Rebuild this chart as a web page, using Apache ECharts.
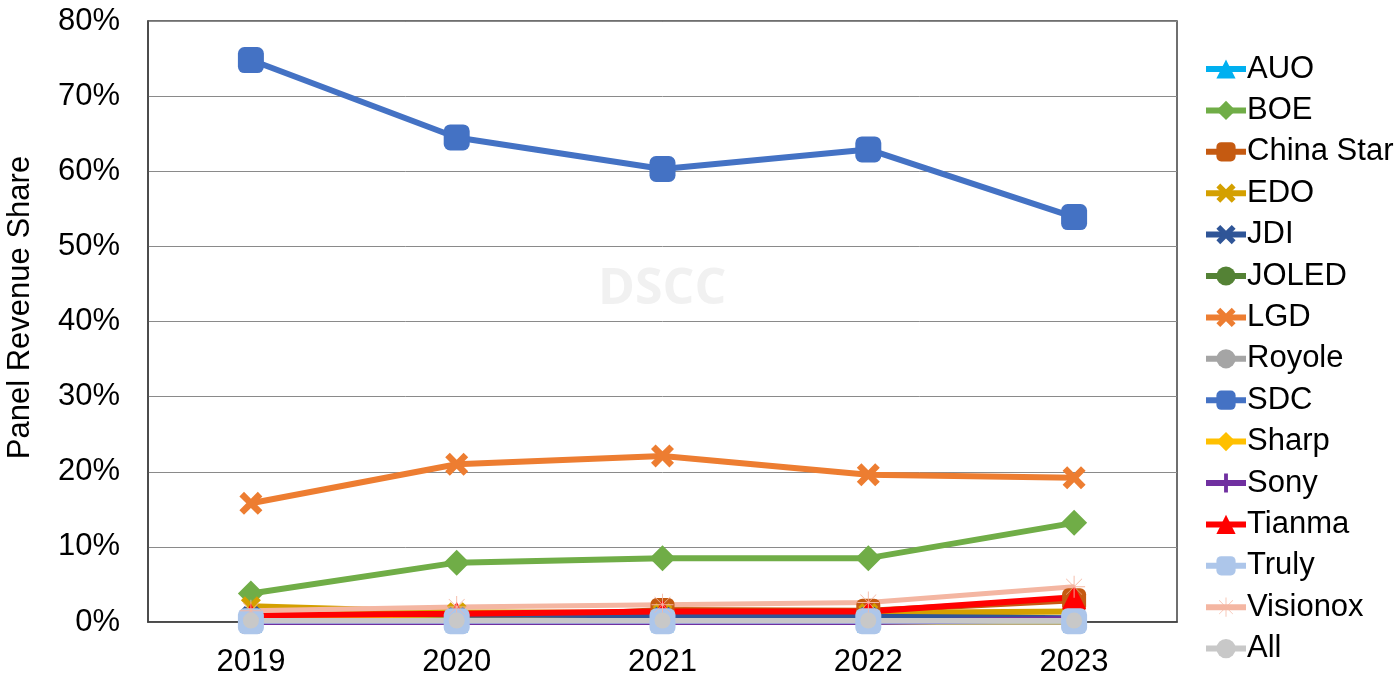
<!DOCTYPE html>
<html><head><meta charset="utf-8">
<script src="https://cdn.jsdelivr.net/npm/echarts@6/dist/echarts.min.js"></script>
<style>html,body{margin:0;padding:0;background:#fff}#c{width:1400px;height:683px}</style>
</head><body><div id="c"></div>
<script>
const years = ['2019','2020','2021','2022','2023'];
const AUO = [0, 0, 0, 0, 0];
const BOE = [3.8, 7.9, 8.5, 8.5, 13.2];
const ChinaStar = [0, 0.2, 1.6, 1.5, 2.9];
const EDO = [2.1, 1.3, 1.2, 1.2, 1.4];
const JDI = [0.8, 0.7, 0.7, 0.7, 0.5];
const JOLED = [0, 0, 0, 0, 0];
const LGD = [15.8, 21.0, 22.1, 19.6, 19.2];
const Royole = [0, 0, 0, 0, 0];
const SDC = [74.8, 64.5, 60.3, 62.9, 53.9];
const Sharp = [0.4, 0.2, 0.1, 0.1, 0.1];
const Sony = [0, 0, 0, 0, 0.4];
const Tianma = [0.9, 1.1, 1.4, 1.4, 3.3];
const Truly = [0.1, 0.1, 0.1, 0.1, 0.1];
const Visionox = [1.5, 2.0, 2.3, 2.6, 4.7];
const All = [0.2, 0.2, 0.2, 0.2, 0.2];
const yTicks = [0, 10, 20, 30, 40, 50, 60, 70, 80];

const X = 'path://M0,2 L2,0 L5,3 L8,0 L10,2 L7,5 L10,8 L8,10 L5,7 L2,10 L0,8 L3,5 Z';
const PLUS = 'path://M4,0 H6 V4 H10 V6 H6 V10 H4 V6 H0 V4 H4 Z';
const AST = 'path://M4.8,0 H5.2 V4.6 L8.5,1.3 L8.7,1.5 L5.4,4.8 H10 V5.2 H5.4 L8.7,8.5 L8.5,8.7 L5.2,5.4 V10 H4.8 V5.4 L1.5,8.7 L1.3,8.5 L4.6,5.2 H0 V4.8 H4.6 L1.3,1.5 L1.5,1.3 L4.8,4.6 Z';

const defs = [
 ['AUO', AUO, '#00B0F0', 'triangle', 22, 6],
 ['BOE', BOE, '#70AD47', 'diamond', 26, 6],
 ['China Star', ChinaStar, '#C55A11', 'roundRect', 24, 6],
 ['EDO', EDO, '#D4A000', X, 20, 6],
 ['JDI', JDI, '#2F5597', X, 20, 6],
 ['JOLED', JOLED, '#548235', 'circle', 18, 6],
 ['LGD', LGD, '#ED7D31', X, 23, 6],
 ['Royole', Royole, '#A5A5A5', 'circle', 14, 6],
 ['SDC', SDC, '#4472C4', 'roundRect', 26, 6],
 ['Sharp', Sharp, '#FFC000', 'diamond', 22, 6],
 ['Sony', Sony, '#7030A0', PLUS, 20, 6],
 ['Tianma', Tianma, '#FF0000', 'triangle', 24, 6],
 ['Truly', Truly, '#ADC6EA', 'roundRect', 26, 5],
 ['Visionox', Visionox, '#F4B6A2', AST, 22, 5],
 ['All', All, '#C8C8C8', 'circle', 16, 5]
];

const series = defs.map(d => ({
  name: d[0], type: 'line', data: d[1],
  symbol: d[3], symbolSize: d[4], showSymbol: true,
  itemStyle: {color: d[2]},
  lineStyle: {color: d[2], width: d[5]},
  emphasis: {disabled: true}, animation: false
}));

const chart = echarts.init(document.getElementById('c'));
chart.setOption({
  animation: false,
  textStyle: {fontFamily: 'Liberation Sans, Arial, sans-serif'},
  grid: {left: 148, top: 21, width: 1029, height: 601, show: true, borderColor: '#404040', borderWidth: 1.5, containLabel: false, outerBoundsMode: 'none'},
  graphic: [{type: 'text', left: 598, top: 265, style: {text: 'DSCC', fontSize: 50, fontWeight: 'bold', fill: '#F1F1F1', fontFamily: 'Open Sans, Liberation Sans, sans-serif'}, z: -1}],
  legend: {
    orient: 'vertical', left: 1203, top: 53.5, height: 640, padding: 0,
    itemWidth: 40, itemHeight: 24, itemGap: 10.4,
    lineStyle: {width: 6},
    textStyle: {fontSize: 31, lineHeight: 30, color: '#000', fontFamily: 'Liberation Sans, Arial, sans-serif', padding: [0,0,0,-4]},
    data: defs.map(d => d[0])
  },
  xAxis: {
    type: 'category', data: years, boundaryGap: true,
    axisLine: {show: true, lineStyle: {color: '#404040', width: 1.5}},
    axisTick: {show: false},
    axisLabel: {fontSize: 31, color: '#000', margin: 25}
  },
  yAxis: {
    type: 'value', min: yTicks[0], max: yTicks[yTicks.length-1], interval: 10,
    name: 'Panel Revenue Share', nameLocation: 'middle', nameGap: 112, nameRotate: 90,
    nameTextStyle: {fontSize: 31, color: '#000', padding: [0, 0, 0, 28]},
    axisLine: {show: true, lineStyle: {color: '#404040', width: 1.5}},
    axisTick: {show: false},
    axisLabel: {fontSize: 31, color: '#000', margin: 28, formatter: '{value}%'},
    splitLine: {lineStyle: {color: '#8A8A8A', width: 1}}
  },
  series: series
});
</script></body></html>
